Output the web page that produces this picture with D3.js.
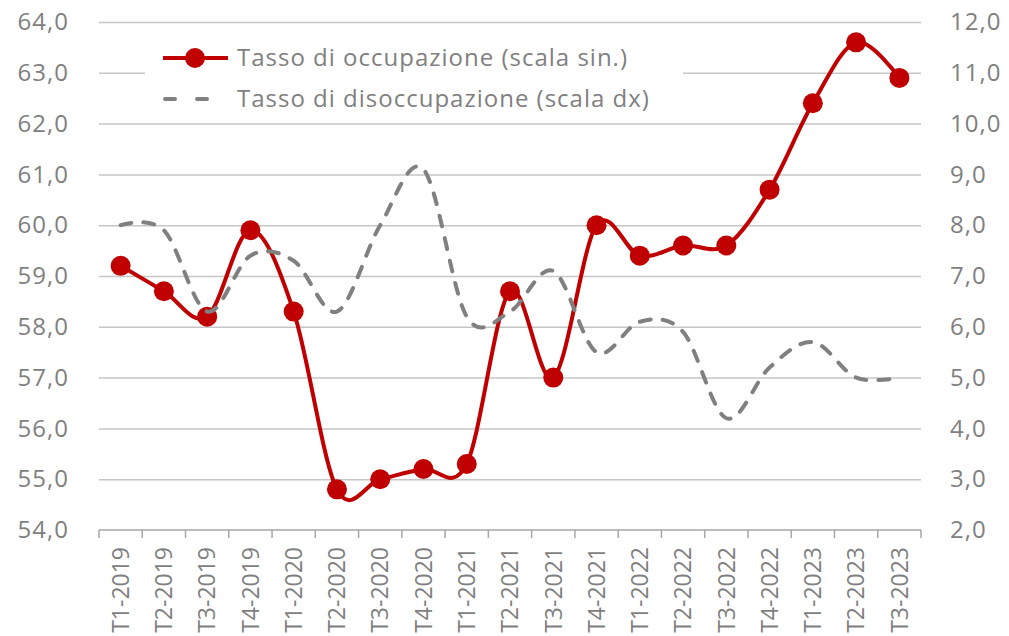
<!DOCTYPE html>
<html>
<head>
<meta charset="utf-8">
<script src="https://cdn.jsdelivr.net/npm/d3@7"></script>
<style>
  body { margin: 0; background: #fff; }
  svg { display: block; font-family: "Open Sans", sans-serif; }
</style>
</head>
<body>
<div id="chart"></div>
<script>
// quarters on the x axis
const quarters = ["T1-2019", "T2-2019", "T3-2019", "T4-2019",
  "T1-2020", "T2-2020", "T3-2020", "T4-2020",
  "T1-2021", "T2-2021", "T3-2021", "T4-2021",
  "T1-2022", "T2-2022", "T3-2022", "T4-2022",
  "T1-2023", "T2-2023", "T3-2023"];

// employment rate (left scale)
const occupazione = [59.2, 58.7, 58.2, 59.9, 58.3, 54.8, 55.0, 55.2, 55.3, 58.7,
  57.0, 60.0, 59.4, 59.6, 59.6, 60.7, 62.4, 63.6, 62.9];

// unemployment rate (right scale)
const disoccupazione = [8.0, 7.9, 6.3, 7.4, 7.3, 6.3, 8.0, 9.1, 6.2, 6.3,
  7.1, 5.5, 6.1, 5.9, 4.2, 5.2, 5.7, 5.0, 5.0];

const leftTicks = [54, 55, 56, 57, 58, 59, 60, 61, 62, 63, 64];
const rightTicks = [2, 3, 4, 5, 6, 7, 8, 9, 10, 11, 12];

const seriesNames = ["Tasso di occupazione (scala sin.)", "Tasso di disoccupazione (scala dx)"];

const width = 1009, height = 636;
const marginLeft = 99, marginRight = 88, marginTop = 22, marginBottom = 106;

const red = "#c00000";
const grey = "#808080";
const textColor = "#7f7f7f";

const locale = d3.formatLocale({decimal: ",", thousands: ".", grouping: [3], currency: ["€", ""]});
const fmt = locale.format(".1f");

const svg = d3.select("#chart").append("svg")
  .attr("width", width)
  .attr("height", height);

const x = d3.scaleBand()
  .domain(quarters)
  .range([marginLeft, width - marginRight])
  .padding(0);

const yL = d3.scaleLinear().domain([54, 64]).range([height - marginBottom, marginTop]);
const yR = d3.scaleLinear().domain([2, 12]).range([height - marginBottom, marginTop]);

const plotW = width - marginRight - marginLeft;

// gridlines + left labels
const gLeft = svg.append("g")
  .attr("transform", `translate(${marginLeft},0)`)
  .call(d3.axisLeft(yL).tickValues(leftTicks).tickFormat(fmt).tickSize(-plotW).tickPadding(30));
gLeft.select(".domain").remove();
gLeft.selectAll(".tick line")
  .attr("stroke", "#c6c6c6")
  .attr("stroke-width", 1.5)
  .filter(d => d === 54).remove();
gLeft.selectAll(".tick text")
  .attr("fill", textColor)
  .attr("font-size", 24)
  .attr("letter-spacing", 1)
  .attr("font-family", "'Open Sans', sans-serif");

// right labels
const gRight = svg.append("g")
  .attr("transform", `translate(${width - marginRight},0)`)
  .call(d3.axisRight(yR).tickValues(rightTicks).tickFormat(fmt).tickSize(0).tickPadding(29));
gRight.select(".domain").remove();
gRight.selectAll(".tick text")
  .attr("fill", textColor)
  .attr("font-size", 24)
  .attr("letter-spacing", 1)
  .attr("font-family", "'Open Sans', sans-serif");

// bottom axis
const baseY = height - marginBottom;
const gBottom = svg.append("g")
  .attr("transform", `translate(0,${baseY})`)
  .call(d3.axisBottom(x).tickSize(0).tickPadding(0));
gBottom.select(".domain").remove();
gBottom.selectAll(".tick text")
  .attr("fill", textColor)
  .attr("font-size", 23)
  .attr("font-family", "'Open Sans', sans-serif")
  .attr("text-anchor", "end")
  .attr("transform", "rotate(-90)")
  .attr("x", -17)
  .attr("y", 0)
  .attr("dy", "0.36em");

svg.append("line")
  .attr("x1", marginLeft).attr("x2", width - marginRight)
  .attr("y1", baseY).attr("y2", baseY)
  .attr("stroke", "#a6a6a6").attr("stroke-width", 1.5);

const boundaries = quarters.map(q => x(q)).concat([width - marginRight]);
svg.append("g").selectAll("line")
  .data(boundaries)
  .join("line")
  .attr("x1", d => d).attr("x2", d => d)
  .attr("y1", baseY).attr("y2", baseY + 8)
  .attr("stroke", "#a6a6a6").attr("stroke-width", 1.5);

const cx = d => x(d) + x.bandwidth() / 2;

// employment line
const lineL = d3.line()
  .x((d, i) => cx(quarters[i]))
  .y(d => yL(d))
  .curve(d3.curveCatmullRom.alpha(0));

svg.append("path")
  .datum(occupazione)
  .attr("fill", "none")
  .attr("stroke", red)
  .attr("stroke-width", 4)
  .attr("d", lineL);

svg.append("g").selectAll("circle")
  .data(occupazione)
  .join("circle")
  .attr("cx", (d, i) => cx(quarters[i]))
  .attr("cy", d => yL(d))
  .attr("r", 10)
  .attr("fill", red);

// unemployment line (drawn on top)
const lineR = d3.line()
  .x((d, i) => cx(quarters[i]))
  .y(d => yR(d))
  .curve(d3.curveCatmullRom.alpha(0));

svg.append("path")
  .datum(disoccupazione)
  .attr("fill", "none")
  .attr("stroke", grey)
  .attr("stroke-width", 4)
  .attr("stroke-linecap", "round")
  .attr("stroke-dasharray", "11,12")
  .attr("d", lineR);

// legend
const legend = svg.append("g");
legend.append("rect")
  .attr("x", 145).attr("y", 38)
  .attr("width", 538).attr("height", 80)
  .attr("fill", "#fff");

legend.append("line")
  .attr("x1", 163).attr("x2", 228).attr("y1", 58).attr("y2", 58)
  .attr("stroke", red).attr("stroke-width", 4);
legend.append("circle")
  .attr("cx", 195).attr("cy", 58).attr("r", 10).attr("fill", red);

legend.append("line")
  .attr("x1", 165).attr("x2", 210).attr("y1", 99).attr("y2", 99)
  .attr("stroke", grey).attr("stroke-width", 4)
  .attr("stroke-linecap", "round")
  .attr("stroke-dasharray", "10,22");

legend.selectAll("text")
  .data(seriesNames)
  .join("text")
  .attr("x", 237)
  .attr("y", (d, i) => 58 + i * 41)
  .attr("dy", "0.35em")
  .attr("fill", textColor)
  .attr("font-size", 24)
  .attr("letter-spacing", 1)
  .attr("font-family", "'Open Sans', sans-serif")
  .text(d => d);
</script>
</body>
</html>
